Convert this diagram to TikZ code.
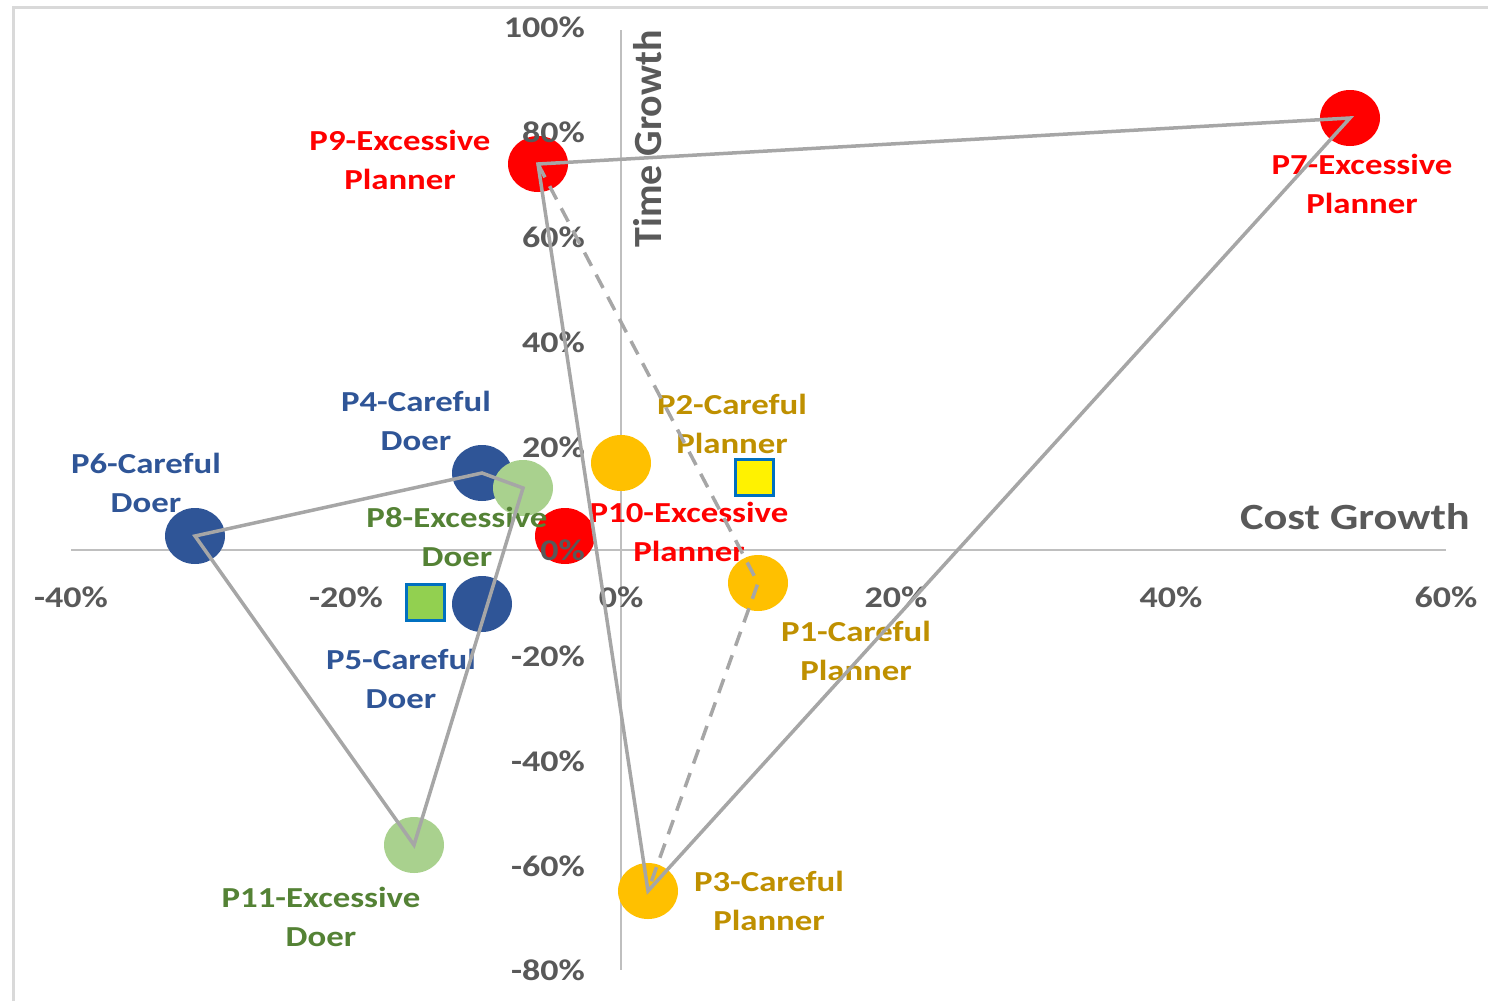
\documentclass[tikz,border=0pt]{standalone}
\usepackage{fontspec}
\setmainfont{Carlito}[FakeStretch=1.2]
\newfontfamily\uprightfont{Carlito}
\usetikzlibrary{shapes.geometric}
\definecolor{axisgray}{HTML}{BFBFBF}
\definecolor{ticktext}{HTML}{595959}
\definecolor{linkgray}{HTML}{A6A6A6}
\definecolor{framegray}{HTML}{D9D9D9}
\definecolor{excred}{HTML}{FF0000}
\definecolor{doerblue}{HTML}{2F5597}
\definecolor{planyellow}{HTML}{FFC000}
\definecolor{plangold}{HTML}{BF9000}
\definecolor{doergreen}{HTML}{A9D18E}
\definecolor{doergreentext}{HTML}{548235}
\definecolor{markblue}{HTML}{0070C0}
\definecolor{markgreen}{HTML}{92D050}
\begin{document}
\begin{tikzpicture}[x=1pt,y=-1pt,
  dot/.style={ellipse, minimum width=60pt, minimum height=56pt, inner sep=0pt},
  lbl/.style={align=center, inner sep=0pt, font=\bfseries\fontsize{29}{38.5}\selectfont},
  tick/.style={text=ticktext, inner sep=0pt, font=\bfseries\fontsize{30}{30}\selectfont},
  axtitle/.style={text=ticktext, inner sep=0pt, font=\bfseries\fontsize{37}{40}\selectfont},
  link/.style={draw=linkgray, line width=3.5pt},
  dlink/.style={link, dash pattern=on 15pt off 10pt},
  marker/.style={draw=markblue, line width=3pt, minimum width=38pt, minimum height=36pt, inner sep=0pt}]
\useasboundingbox (0,0) rectangle (1488,1001);
% chart frame
\draw[framegray, line width=3pt] (13,1001) -- (13,7) -- (1488,7);
% axes
\draw[axisgray, line width=2pt] (71,550) -- (1446,550);
\draw[axisgray, line width=2pt] (621,30) -- (621,970);
% data points
\node[dot, fill=excred] (p9) at (538,164) {};
\node[dot, fill=excred] (p7) at (1350,118) {};
\node[dot, fill=planyellow] (p2) at (621,463) {};
\node[dot, fill=doerblue] (p4) at (482,473) {};
\node[dot, fill=doergreen] (p8) at (523,488) {};
\node[dot, fill=excred] (p10) at (565,536) {};
\node[dot, fill=doerblue] (p6) at (195,536) {};
\node[dot, fill=planyellow] (p1) at (758,583) {};
\node[dot, fill=doerblue] (p5) at (482,604) {};
\node[dot, fill=doergreen] (p11) at (414,845) {};
\node[dot, fill=planyellow] (p3) at (648,891) {};
% group centroids
\node[marker, fill=yellow] (m1) at (754,477) {};
\node[marker, fill=markgreen] (m2) at (425,602) {};
% tick labels
\foreach \v/\x in {-40\%/71,-20\%/346,0\%/621,20\%/896,40\%/1171,60\%/1446}
  \node[tick] at (\x,597) {\v};
\foreach \v/\y in {100\%/27,80\%/132,60\%/237,40\%/342,20\%/447,0\%/550,-20\%/656,-40\%/761,-60\%/866,-80\%/970}
  \node[tick, anchor=east] at (585,\y) {\v};
% axis titles
\node[axtitle, anchor=east] (xt) at (1470,517) {Cost Growth};
\node[axtitle, rotate=90, font=\uprightfont\bfseries\fontsize{40}{40}\selectfont] (yt) at (648,139) {Time Growth};
% point labels
\node[lbl, text=excred] (l9) at (400,160) {P9-Excessive\\Planner};
\node[lbl, text=excred] (l7) at (1362,184) {P7-Excessive\\Planner};
\node[lbl, text=doerblue] (l4) at (416,421) {P4-Careful\\Doer};
\node[lbl, text=doerblue] (l6) at (146,483) {P6-Careful\\Doer};
\node[lbl, text=plangold] (l2) at (732,424) {P2-Careful\\Planner};
\node[lbl, text=excred] (l10) at (689,532) {P10-Excessive\\Planner};
\node[lbl, text=doergreentext] (l8) at (457,537) {P8-Excessive\\Doer};
\node[lbl, text=doerblue] (l5) at (401,679) {P5-Careful\\Doer};
\node[lbl, text=plangold] (l1) at (856,651) {P1-Careful\\Planner};
\node[lbl, text=doergreentext] (l11) at (321,917) {P11-Excessive\\Doer};
\node[lbl, text=plangold] (l3) at (769,901) {P3-Careful\\Planner};
% group outlines
\draw[link] (p6.center) -- (p4.center) -- (p8.center) -- (p11.center) -- cycle;
\draw[link] (p9.center) -- (p7.center) -- (p3.center) -- cycle;
\draw[dlink] (p9.center) -- (p1.center) -- (p3.center);
\end{tikzpicture}
\end{document}
